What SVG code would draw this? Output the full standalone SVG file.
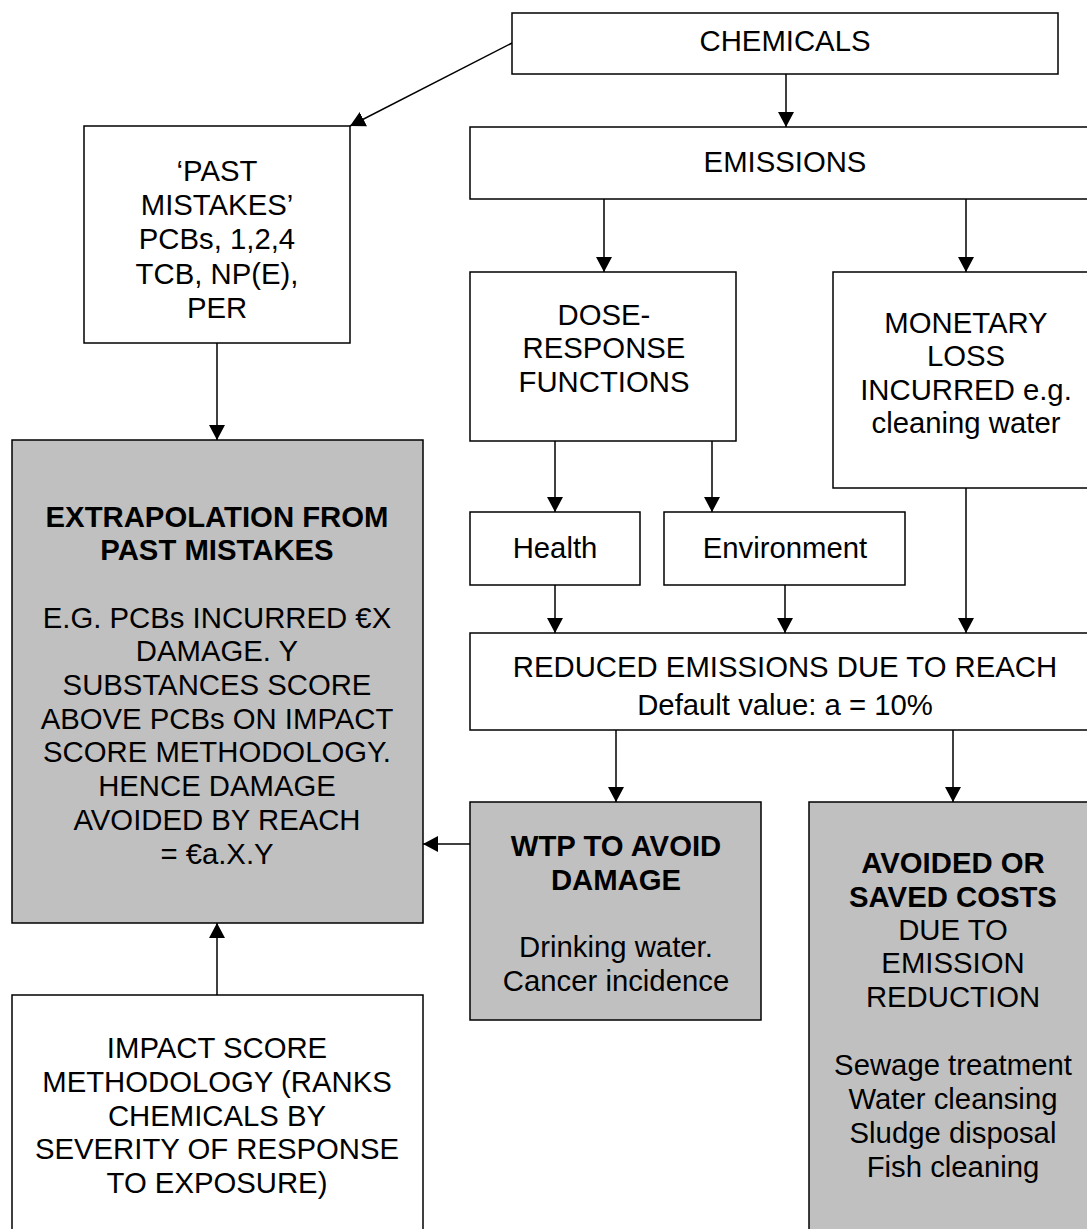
<svg xmlns="http://www.w3.org/2000/svg" width="1087" height="1229" viewBox="0 0 1087 1229">
<style>
.box{fill:#ffffff;stroke:#000000;stroke-width:1.5}
.grey{fill:#c0c0c0;stroke:#000000;stroke-width:1.5}
.t{font-family:"Liberation Sans",Arial,sans-serif;font-size:29.3px;fill:#000000;text-anchor:middle}
.b{font-weight:bold}
.c{stroke:#000000;stroke-width:1.5;fill:none;marker-end:url(#arr)}
</style>
<defs>
<marker id="arr" markerUnits="userSpaceOnUse" markerWidth="15" markerHeight="16" refX="15" refY="8" orient="auto">
<path d="M0,0 L15,8 L0,16 z" fill="#000000"/>
</marker>
</defs>
<rect width="1087" height="1229" fill="#ffffff"/>
<g id="connectors">
<line class="c" x1="512" y1="43" x2="350" y2="126"/>
<line class="c" x1="786" y1="74" x2="786" y2="127"/>
<line class="c" x1="604" y1="199" x2="604" y2="272"/>
<line class="c" x1="966" y1="199" x2="966" y2="272"/>
<line class="c" x1="217" y1="343" x2="217" y2="440"/>
<line class="c" x1="555" y1="441" x2="555" y2="512"/>
<line class="c" x1="712" y1="441" x2="712" y2="512"/>
<line class="c" x1="555" y1="585" x2="555" y2="633"/>
<line class="c" x1="785" y1="585" x2="785" y2="633"/>
<line class="c" x1="966" y1="488" x2="966" y2="633"/>
<line class="c" x1="616" y1="730" x2="616" y2="802"/>
<line class="c" x1="953" y1="730" x2="953" y2="802"/>
<line class="c" x1="470" y1="844" x2="423" y2="844"/>
<line class="c" x1="217" y1="995" x2="217" y2="923"/>
</g>
<g id="chemicals">
<rect class="box" x="512" y="13" width="546" height="61"/>
<text class="t" x="785" y="51">CHEMICALS</text>
</g>
<g id="emissions">
<rect class="box" x="470" y="127" width="630" height="72"/>
<text class="t" x="785" y="172">EMISSIONS</text>
</g>
<g id="past-mistakes">
<rect class="box" x="84" y="126" width="266" height="217"/>
<text class="t" x="217" y="181">‘PAST</text>
<text class="t" x="217" y="215">MISTAKES’</text>
<text class="t" x="217" y="249">PCBs, 1,2,4</text>
<text class="t" x="217" y="284">TCB, NP(E),</text>
<text class="t" x="217" y="318">PER</text>
</g>
<g id="dose-response">
<rect class="box" x="470" y="272" width="266" height="169"/>
<text class="t" x="604" y="325">DOSE-</text>
<text class="t" x="604" y="358">RESPONSE</text>
<text class="t" x="604" y="392">FUNCTIONS</text>
</g>
<g id="monetary-loss">
<rect class="box" x="833" y="272" width="300" height="216"/>
<text class="t" x="966" y="333">MONETARY</text>
<text class="t" x="966" y="366">LOSS</text>
<text class="t" x="966" y="400">INCURRED e.g.</text>
<text class="t" x="966" y="433">cleaning water</text>
</g>
<g id="extrapolation">
<rect class="grey" x="12" y="440" width="411" height="483"/>
<text class="t b" x="217" y="527">EXTRAPOLATION FROM</text>
<text class="t b" x="217" y="560">PAST MISTAKES</text>
<text class="t" x="217" y="628">E.G. PCBs INCURRED €X</text>
<text class="t" x="217" y="661">DAMAGE. Y</text>
<text class="t" x="217" y="695">SUBSTANCES SCORE</text>
<text class="t" x="217" y="729">ABOVE PCBs ON IMPACT</text>
<text class="t" x="217" y="762">SCORE METHODOLOGY.</text>
<text class="t" x="217" y="796">HENCE DAMAGE</text>
<text class="t" x="217" y="830">AVOIDED BY REACH</text>
<text class="t" x="217" y="864">= €a.X.Y</text>
</g>
<g id="health">
<rect class="box" x="470" y="512" width="170" height="73"/>
<text class="t" x="555" y="558">Health</text>
</g>
<g id="environment">
<rect class="box" x="664" y="512" width="241" height="73"/>
<text class="t" x="785" y="558">Environment</text>
</g>
<g id="reduced-emissions">
<rect class="box" x="470" y="633" width="630" height="97"/>
<text class="t" x="785" y="677">REDUCED EMISSIONS DUE TO REACH</text>
<text class="t" x="785" y="715">Default value: a = 10%</text>
</g>
<g id="wtp">
<rect class="grey" x="470" y="802" width="291" height="218"/>
<text class="t b" x="616" y="856">WTP TO AVOID</text>
<text class="t b" x="616" y="890">DAMAGE</text>
<text class="t" x="616" y="957">Drinking water.</text>
<text class="t" x="616" y="991">Cancer incidence</text>
</g>
<g id="avoided-costs">
<rect class="grey" x="809" y="802" width="300" height="450"/>
<text class="t b" x="953" y="873">AVOIDED OR</text>
<text class="t b" x="953" y="907">SAVED COSTS</text>
<text class="t" x="953" y="940">DUE TO</text>
<text class="t" x="953" y="973">EMISSION</text>
<text class="t" x="953" y="1007">REDUCTION</text>
<text class="t" x="953" y="1075">Sewage treatment</text>
<text class="t" x="953" y="1109">Water cleansing</text>
<text class="t" x="953" y="1143">Sludge disposal</text>
<text class="t" x="953" y="1177">Fish cleaning</text>
</g>
<g id="impact-score">
<rect class="box" x="12" y="995" width="411" height="260"/>
<text class="t" x="217" y="1058">IMPACT SCORE</text>
<text class="t" x="217" y="1092">METHODOLOGY (RANKS</text>
<text class="t" x="217" y="1126">CHEMICALS BY</text>
<text class="t" x="217" y="1159">SEVERITY OF RESPONSE</text>
<text class="t" x="217" y="1193">TO EXPOSURE)</text>
</g>
</svg>
